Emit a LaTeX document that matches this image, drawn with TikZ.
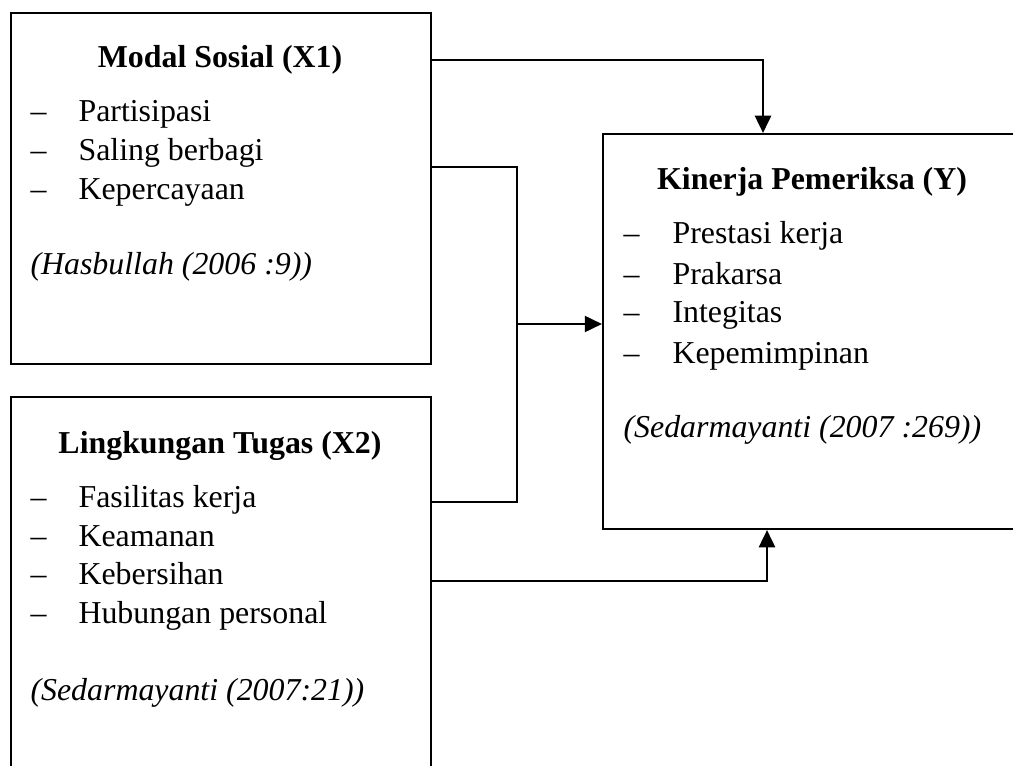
\documentclass[tikz,border=0pt]{standalone}
\usepackage{fontspec}
\setmainfont{Liberation Serif}
\usetikzlibrary{calc,arrows.meta}

\tikzstyle{box} = [rectangle, draw, line width=0.75pt, anchor=north west, inner sep=0pt]
\tikzstyle{title} = [anchor=base, inner sep=0pt, font={\fontsize{12pt}{14pt}\selectfont\bfseries}]
\tikzstyle{item} = [anchor=base west, inner sep=0pt, font={\fontsize{12pt}{14pt}\selectfont}]
\tikzstyle{cite} = [anchor=base west, inner sep=0pt, font={\fontsize{12pt}{14pt}\selectfont\itshape}]
\tikzstyle{line} = [line width=1pt]
\tikzstyle{link} = [line width=1pt, -{Triangle[length=6.5pt, width=6pt]}]

\begin{document}
\begin{tikzpicture}[x=0.3765pt, y=-0.3765pt]
            \useasboundingbox (0,0) rectangle (1013,765);
            \clip (0,0) rectangle (1013,765);
            % boxes
            \node[box, minimum width=158.13pt, minimum height=132.15pt] (x1) at (10,12) {};
            \node[box, minimum width=158.13pt, minimum height=150.6pt] (x2) at (10,396) {};
            \node[box, minimum width=164.9pt, minimum height=148.72pt] (ky) at (602,133) {};
            % Modal Sosial
            \node[title] (x1t) at (220,68) {Modal Sosial (X1)};
            \node[item] (x1d1) at (30,122) {--};
            \node[item] (x1a) at (78,122) {Partisipasi};
            \node[item] (x1d2) at (30,161) {--};
            \node[item] (x1b) at (78,161) {Saling berbagi};
            \node[item] (x1d3) at (30,200) {--};
            \node[item] (x1c) at (78,200) {Kepercayaan};
            \node[cite] (x1s) at (30,275) {(Hasbullah (2006 :9))};
            % Lingkungan Tugas
            \node[title] (x2t) at (220,453) {Lingkungan Tugas (X2)};
            \node[item] (x2d1) at (30,507) {--};
            \node[item] (x2a) at (78,507) {Fasilitas kerja};
            \node[item] (x2d2) at (30,546) {--};
            \node[item] (x2b) at (78,546) {Keamanan};
            \node[item] (x2d3) at (30,584) {--};
            \node[item] (x2c) at (78,584) {Kebersihan};
            \node[item] (x2d4) at (30,623) {--};
            \node[item] (x2e) at (78,623) {Hubungan personal};
            \node[cite] (x2s) at (30,700) {(Sedarmayanti (2007:21))};
            % Kinerja Pemeriksa
            \node[title] (kyt) at (812,190) {Kinerja Pemeriksa (Y)};
            \node[item] (kyd1) at (623,244) {--};
            \node[item] (kya) at (672,244) {Prestasi kerja};
            \node[item] (kyd2) at (623,284) {--};
            \node[item] (kyb) at (672,284) {Prakarsa};
            \node[item] (kyd3) at (623,323) {--};
            \node[item] (kyc) at (672,323) {Integitas};
            \node[item] (kyd4) at (623,363) {--};
            \node[item] (kye) at (672,363) {Kepemimpinan};
            \node[cite] (kys) at (623,437) {(Sedarmayanti (2007 :269))};
            % connectors
            \coordinate (mid) at (517,324);
            \draw[link] ($(x1.north east)+(0,48)$) -| ($(ky.north west)+(161,0)$);
            \draw[line] ($(x1.north east)+(0,155)$) -| (mid) |- ($(x2.north east)+(0,106)$);
            \draw[link] (mid) -- (mid -| ky.west);
            \draw[link] ($(x2.north east)+(0,185)$) -| ($(ky.south west)+(165,0)$);
        \end{tikzpicture}
\end{document}
